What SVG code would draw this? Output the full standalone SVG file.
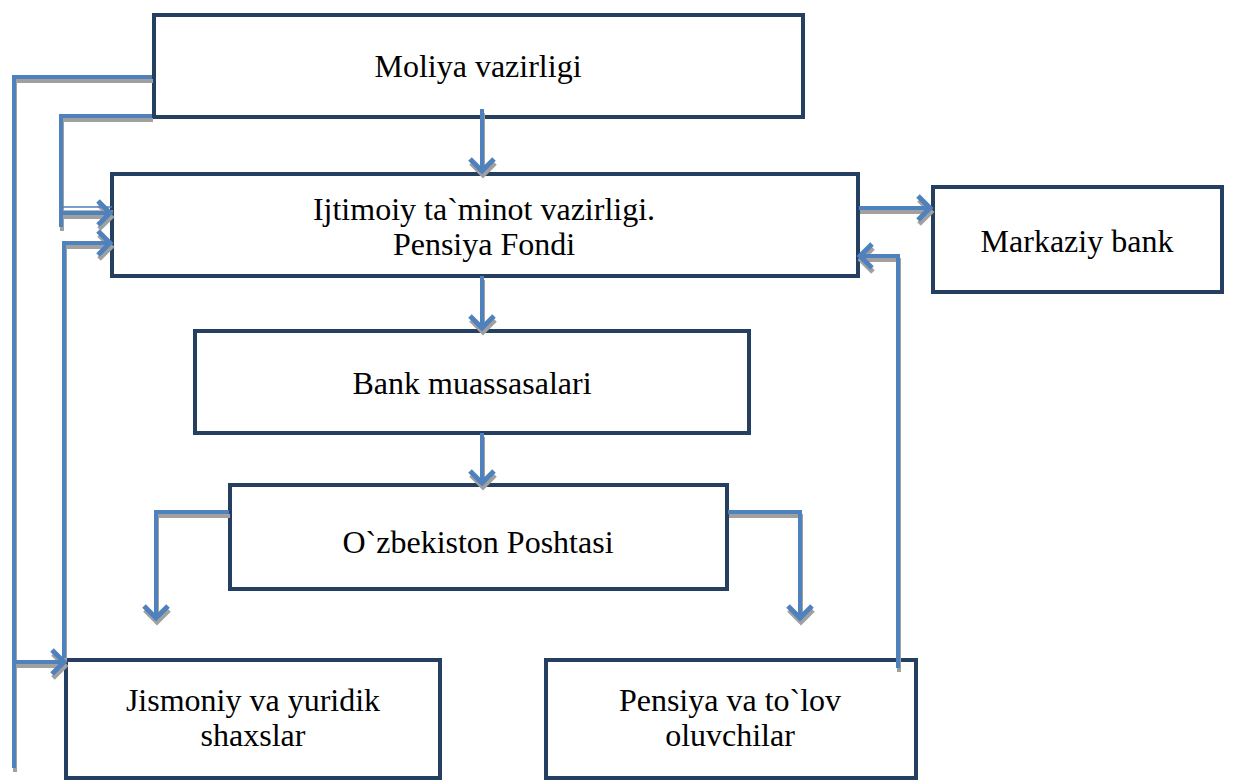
<svg xmlns="http://www.w3.org/2000/svg" width="1243" height="780" viewBox="0 0 1243 780">
<style>
.box{fill:#fff;stroke:#243F60;stroke-width:4}
.c{fill:none;stroke:#4F81BD;stroke-width:4}
.t{font-family:"Liberation Serif","Times New Roman",serif;font-size:32px;fill:#000;text-anchor:middle}
</style>
<defs>
<marker id="ah" markerUnits="userSpaceOnUse" markerWidth="30" markerHeight="30" refX="21" refY="15" orient="auto" viewBox="0 0 30 30">
<polyline points="9,3 21,15 9,27" fill="none" stroke="#4F81BD" stroke-width="5"/>
</marker>
<filter id="sh" x="-10%" y="-10%" width="120%" height="120%">
<feOffset in="SourceAlpha" dx="1" dy="4" result="o"/>
<feFlood flood-color="#a0a0a0"/>
<feComposite in2="o" operator="in" result="s"/>
<feMerge><feMergeNode in="s"/><feMergeNode in="SourceGraphic"/></feMerge>
</filter>
</defs>
<rect width="1243" height="780" fill="#fff"/>
<g id="n1"><rect class="box" x="154" y="15" width="649" height="102"/><text class="t" x="478" y="77">Moliya vazirligi</text></g>
<g id="n2"><rect class="box" x="112" y="174" width="746" height="102"/><text class="t" x="484" y="220">Ijtimoiy ta`minot vazirligi.</text><text class="t" x="484" y="255">Pensiya Fondi</text></g>
<g id="n3"><rect class="box" x="933" y="187" width="289" height="105"/><text class="t" x="1077" y="252">Markaziy bank</text></g>
<g id="n4"><rect class="box" x="195" y="331" width="554" height="102"/><text class="t" x="472" y="394">Bank muassasalari</text></g>
<g id="n5"><rect class="box" x="230" y="485" width="497" height="104"/><text class="t" x="478" y="553">O`zbekiston Poshtasi</text></g>
<g id="n6"><rect class="box" x="66" y="660" width="374" height="118"/><text class="t" x="253" y="711">Jismoniy va yuridik</text><text class="t" x="253" y="746">shaxslar</text></g>
<g id="n7"><rect class="box" x="546" y="660" width="370" height="118"/><text class="t" x="730" y="711">Pensiya va to`lov</text><text class="t" x="730" y="746">oluvchilar</text></g>
<g id="connectors" filter="url(#sh)">
<polyline class="c" points="152,77 14,77 14,768"/>
<line class="c" x1="14" y1="662" x2="64" y2="662" marker-end="url(#ah)"/>
<polyline class="c" points="152,116 61,116 61,227"/>
<line class="c" x1="61" y1="213" x2="110" y2="213" marker-end="url(#ah)"/>
<line x1="61" y1="207" x2="112" y2="207" stroke="#4F81BD" stroke-width="1.5"/>
<polyline class="c" points="64,658 64,243 110,243" marker-end="url(#ah)"/>
<line class="c" x1="482" y1="109" x2="482" y2="171" marker-end="url(#ah)"/>
<line class="c" x1="482" y1="276" x2="482" y2="328" marker-end="url(#ah)"/>
<line class="c" x1="482" y1="433" x2="482" y2="483" marker-end="url(#ah)"/>
<polyline class="c" points="229,512 156,512 156,618" marker-end="url(#ah)"/>
<polyline class="c" points="728,512 800,512 800,618" marker-end="url(#ah)"/>
<line class="c" x1="859" y1="208" x2="930" y2="208" marker-end="url(#ah)"/>
<polyline class="c" points="898,668 898,256 860,256" marker-end="url(#ah)"/>
</g>
</svg>
